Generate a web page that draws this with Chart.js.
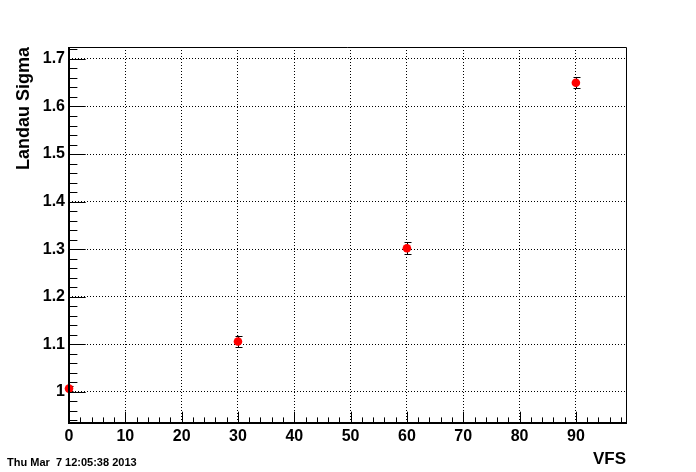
<!DOCTYPE html>
<html>
<head>
<meta charset="utf-8">
<script src="https://cdn.jsdelivr.net/npm/chart.js@4"></script>
<style>
  html, body { margin: 0; padding: 0; background: #ffffff; }
  #wrap { position: relative; width: 696px; height: 472px; }
</style>
</head>
<body>
<div id="wrap"><canvas id="c" width="696" height="472"></canvas></div>
<script>
// ---- data ----
const xValues = [0, 30, 60, 90];
const yValues = [1.007, 1.106, 1.302, 1.650];
const yErrors = [0.006, 0.012, 0.013, 0.012];
const xTicks = [0, 10, 20, 30, 40, 50, 60, 70, 80, 90];
const xTickLabels = ['0', '10', '20', '30', '40', '50', '60', '70', '80', '90'];
const yTicks = [1.0, 1.1, 1.2, 1.3, 1.4, 1.5, 1.6, 1.7];
const yTickLabels = ['1', '1.1', '1.2', '1.3', '1.4', '1.5', '1.6', '1.7'];
const xTitle = 'VFS';
const yTitle = 'Landau Sigma';
const dateText = 'Thu Mar  7 12:05:38 2013';

const FONT = "'Liberation Sans', Arial, Helvetica, sans-serif";

const points = xValues.map((x, i) => ({ x: x, y: yValues[i] }));

const rootPlugin = {
  id: 'rootStyle',
  beforeDatasetsDraw(chart) {
    // error bars
    const ctx = chart.ctx;
    const xs = chart.scales.x, ys = chart.scales.y;
    ctx.save();
    ctx.strokeStyle = '#000';
    ctx.lineWidth = 1;
    xValues.forEach((x, i) => {
      const px = Math.round(xs.getPixelForValue(x)) + 0.5;
      const y1 = ys.getPixelForValue(yValues[i] - yErrors[i]);
      const y2 = ys.getPixelForValue(yValues[i] + yErrors[i]);
      ctx.beginPath();
      ctx.moveTo(px, y1); ctx.lineTo(px, y2);
      ctx.moveTo(px - 3, Math.round(y1) + 0.5); ctx.lineTo(px + 4, Math.round(y1) + 0.5);
      ctx.moveTo(px - 3, Math.round(y2) + 0.5); ctx.lineTo(px + 4, Math.round(y2) + 0.5);
      ctx.stroke();
    });
    ctx.restore();
  },
  afterDraw(chart) {
    const ctx = chart.ctx;
    const a = chart.chartArea;
    const xs = chart.scales.x, ys = chart.scales.y;
    ctx.save();
    ctx.strokeStyle = '#000';
    // frame top/right
    ctx.lineWidth = 1;
    ctx.beginPath();
    ctx.moveTo(a.left, a.top + 0.5); ctx.lineTo(a.right + 0.5, a.top + 0.5);
    ctx.lineTo(a.right + 0.5, a.bottom);
    ctx.stroke();
    // axes left/bottom
    ctx.lineWidth = 2;
    ctx.beginPath();
    ctx.moveTo(a.left, a.top); ctx.lineTo(a.left, a.bottom);
    ctx.lineTo(a.right + 1, a.bottom);
    ctx.stroke();
    // ticks
    ctx.lineWidth = 1;
    ctx.beginPath();
    const yMajLen = 16.7, yMinLen = 8.4, xMajLen = 11.3, xMinLen = 5.6;
    // y ticks: major every 0.1, minor every 0.02
    for (let k = Math.ceil(ys.min / 0.02 - 1e-6); k * 0.02 <= ys.max + 1e-9; k++) {
      const v = k * 0.02;
      const py = Math.round(ys.getPixelForValue(v)) + 0.5;
      const major = (k % 5) === 0;
      ctx.moveTo(a.left, py); ctx.lineTo(a.left + (major ? yMajLen : yMinLen), py);
    }
    // x ticks: major every 10, minor every 2
    for (let k = Math.ceil(xs.min / 2 - 1e-6); k * 2 <= xs.max + 1e-9; k++) {
      const v = k * 2;
      const px = Math.round(xs.getPixelForValue(v)) + 0.5;
      const major = (k % 5) === 0;
      ctx.moveTo(px, a.bottom); ctx.lineTo(px, a.bottom - (major ? xMajLen : xMinLen));
    }
    ctx.stroke();
    // date stamp
    ctx.fillStyle = '#000';
    ctx.font = 'bold 11px ' + FONT;
    ctx.textAlign = 'left';
    ctx.textBaseline = 'middle';
    ctx.fillText(dateText, 7, 463);
    ctx.restore();
  }
};

new Chart(document.getElementById('c'), {
  type: 'scatter',
  data: {
    datasets: [{
      data: points,
      backgroundColor: '#ff0000',
      borderColor: '#ff0000',
      borderWidth: 0,
      pointRadius: 4.3,
      pointHoverRadius: 4.3,
      pointStyle: 'circle',
      clip: false
    }]
  },
  options: {
    responsive: false,
    animation: false,
    events: [],
    layout: { padding: { left: 0, top: 47, right: 70, bottom: 0 } },
    plugins: { legend: { display: false }, tooltip: { enabled: false } },
    scales: {
      x: {
        type: 'linear',
        min: 0,
        max: 98.9,
        afterBuildTicks: (s) => { s.ticks = xTicks.map(v => ({ value: v })); },
        afterFit: (s) => { s.height = 49; },
        grid: { color: '#000', lineWidth: 1, drawTicks: false, borderDash: [1, 2] },
        border: { display: false, dash: [1, 2] },
        ticks: {
          color: '#000',
          padding: 4,
          maxRotation: 0,
          autoSkip: false,
          font: { family: FONT, size: 16, weight: 'bold' },
          callback: (v, i) => xTickLabels[i]
        },
        title: {
          display: true,
          text: xTitle,
          align: 'end',
          color: '#000',
          padding: { top: 0, bottom: 2 },
          font: { family: FONT, size: 17, weight: 'bold' }
        }
      },
      y: {
        type: 'linear',
        min: 0.9347,
        max: 1.725,
        afterBuildTicks: (s) => { s.ticks = yTicks.map(v => ({ value: v })); },
        afterFit: (s) => { s.width = 69; },
        grid: { color: '#000', lineWidth: 1, drawTicks: false, borderDash: [1, 2] },
        border: { display: false, dash: [1, 2] },
        ticks: {
          color: '#000',
          padding: 4,
          autoSkip: false,
          font: { family: FONT, size: 16, weight: 'bold' },
          callback: (v, i) => yTickLabels[i]
        },
        title: {
          display: true,
          text: yTitle,
          align: 'end',
          color: '#000',
          padding: { top: 13, bottom: 0 },
          font: { family: FONT, size: 18, weight: 'bold' }
        }
      }
    }
  },
  plugins: [rootPlugin]
});
</script>
</body>
</html>
